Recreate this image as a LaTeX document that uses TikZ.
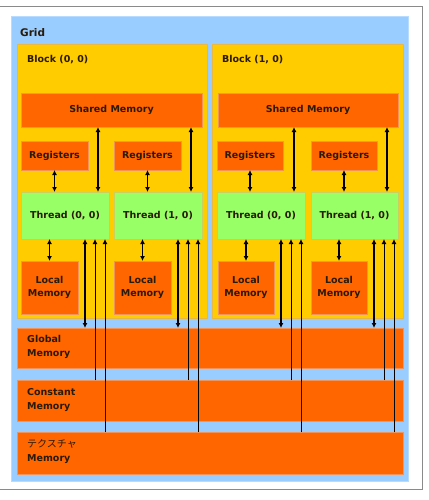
\documentclass[tikz,border=0pt]{standalone}
\usepackage{fontspec}
\setmainfont{DejaVu Sans}
\newfontfamily\jpfont{Noto Sans CJK JP}
\usetikzlibrary{arrows.meta}
\definecolor{gridblue}{HTML}{99CCFF}
\definecolor{gridedge}{HTML}{B8DCFF}
\definecolor{blockyel}{HTML}{FFCC00}
\definecolor{blockedge}{HTML}{E8B840}
\definecolor{memorange}{HTML}{FF6600}
\definecolor{memedge}{HTML}{F0945A}
\definecolor{thrgreen}{HTML}{99FF66}
\definecolor{thredge}{HTML}{C8D060}
\definecolor{txt}{HTML}{2A1A08}
\definecolor{framegray}{HTML}{8A8A8A}
\tikzset{
  x=1pt, y=-1pt,
  boxbase/.style={anchor=north west, inner sep=0pt, outer sep=0pt, line width=0.8pt,
    font=\fontsize{9.5}{13}\selectfont\bfseries, text=txt, align=center},
  gridbox/.style={boxbase, fill=gridblue, draw=gridedge},
  blockbox/.style={boxbase, fill=blockyel, draw=blockedge},
  membox/.style={boxbase, fill=memorange, draw=memedge},
  thrbox/.style={boxbase, fill=thrgreen, draw=thredge},
  lbl/.style={anchor=west, inner sep=0pt, text=txt, align=left,
    font=\fontsize{9.5}{14}\selectfont\bfseries},
  dbl/.style={line width=1.2pt, {Latex[length=5pt,width=5pt]}-{Latex[length=5pt,width=5pt]}},
  sgl/.style={line width=1pt, -{Latex[length=5pt,width=5pt]}},
}
\begin{document}
\begin{tikzpicture}
\useasboundingbox (0,0) rectangle (428,500);
\draw[framegray, line width=1pt] (-2,7) rectangle (422,489);

\node[gridbox, minimum width=397pt, minimum height=465pt] (grid) at (11,16) {};
\node[lbl, font=\fontsize{10.5}{13}\selectfont\bfseries] (gridlbl) at (20,33) {Grid};

% blocks
\node[blockbox, minimum width=190pt, minimum height=274pt] (b0) at (17,44) {};
\node[blockbox, minimum width=191pt, minimum height=274pt] (b1) at (212,44) {};
\node[lbl] (b0lbl) at (27,60) {Block (0, 0)};
\node[lbl] (b1lbl) at (222,60) {Block (1, 0)};

% shared memory
\node[membox, minimum width=181pt, minimum height=34pt] (sh0) at (21,93) {Shared Memory};
\node[membox, minimum width=180pt, minimum height=34pt] (sh1) at (218,93) {Shared Memory};

% registers
\node[membox, minimum width=67pt, minimum height=29pt] (r00) at (21,141) {Registers};
\node[membox, minimum width=67pt, minimum height=29pt] (r01) at (114,141) {Registers};
\node[membox, minimum width=66pt, minimum height=29pt] (r10) at (217,141) {Registers};
\node[membox, minimum width=66pt, minimum height=29pt] (r11) at (311,141) {Registers};

% threads
\node[thrbox, minimum width=88pt, minimum height=47pt] (t00) at (21,192) {Thread (0, 0)};
\node[thrbox, minimum width=88pt, minimum height=47pt] (t01) at (114,192) {Thread (1, 0)};
\node[thrbox, minimum width=88pt, minimum height=47pt] (t10) at (217,192) {Thread (0, 0)};
\node[thrbox, minimum width=87pt, minimum height=47pt] (t11) at (311,192) {Thread (1, 0)};

% local memory
\node[membox, minimum width=57pt, minimum height=53pt] (l00) at (21,261) {Local\\Memory};
\node[membox, minimum width=57pt, minimum height=53pt] (l01) at (114,261) {Local\\Memory};
\node[membox, minimum width=56pt, minimum height=53pt] (l10) at (218,261) {Local\\Memory};
\node[membox, minimum width=56pt, minimum height=53pt] (l11) at (311,261) {Local\\Memory};

% global / constant / texture
\node[membox, minimum width=386pt, minimum height=40pt] (gm) at (17,328) {};
\node[membox, minimum width=386pt, minimum height=41pt] (cm) at (17,380) {};
\node[membox, minimum width=386pt, minimum height=42pt] (tm) at (17,432) {};
\node[lbl] (gmlbl) at ([xshift=10pt,yshift=1pt]gm.west) {Global\\Memory};
\node[lbl] (cmlbl) at ([xshift=10pt,yshift=1pt]cm.west) {Constant\\Memory};
\node[lbl] (tmlbl) at ([xshift=10pt,yshift=2pt]tm.west) {{\jpfont\mdseries\fontsize{10}{14}\selectfont テクスチャ}\\Memory};

% connectors
\foreach \t/\r/\l/\s in {t00/r00/l00/sh0, t01/r01/l01/sh0, t10/r10/l10/sh1, t11/r11/l11/sh1}{
  \draw[dbl] (\r.south) -- (\r.south |- \t.north);
  \draw[dbl] ([xshift=-11pt]\t.north east) coordinate (a) -- (a |- \s.south);
  \draw[dbl] (\l.north) -- (\l.north |- \t.south);
  \draw[dbl] ([xshift=-24pt]\t.south east) coordinate (g) -- (g |- gm.north);
  \draw[sgl] ([xshift=-14pt]\t.south east |- cm.north) -- ([xshift=-14pt]\t.south east);
  \draw[sgl] ([xshift=-4pt]\t.south east |- tm.north) -- ([xshift=-4pt]\t.south east);
}
\end{tikzpicture}
\end{document}
